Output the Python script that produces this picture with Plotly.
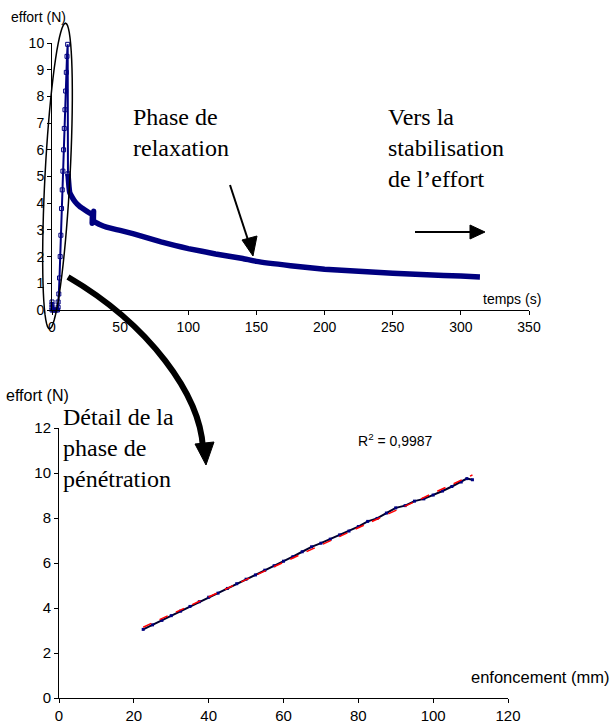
import math
import numpy as np
import plotly.graph_objects as go

# ---------------- data ----------------
# top chart : effort vs temps
rise_t = [0, 0, 0, 0, 1, 2, 3, 4, 4.5, 4.5, 5, 5.5, 6, 6.5, 7, 7.5, 8, 8.5, 9, 9.5, 10, 10.5, 11, 11.5, 11.7]
rise_f = [0, 0.1, 0.2, 0.3, 0, 0, 0, 0, 0.1, 0.3, 0.6, 1.2, 2.0, 2.8, 3.8, 4.5, 5.2, 6.0, 6.8, 7.5, 8.2, 8.9, 9.5, 9.95, 5.1]

relax_t = [11.7, 12.5, 13, 14.5, 17, 20.5, 24, 28, 29.5, 29.5, 30.5, 30.5, 32, 35, 40, 50, 60, 70, 80, 90, 100,
           120, 140, 150, 175, 200, 225, 250, 275, 300, 314]
relax_f = [5.1, 4.6, 4.4, 4.25, 4.05, 3.87, 3.75, 3.62, 3.6, 3.25, 3.7, 3.3, 3.28, 3.2, 3.1, 2.98, 2.85, 2.7, 2.55,
           2.42, 2.3, 2.1, 1.93, 1.82, 1.66, 1.53, 1.45, 1.38, 1.32, 1.27, 1.24]

top_xticks = [0, 50, 100, 150, 200, 250, 300, 350]
top_yticks = [0, 1, 2, 3, 4, 5, 6, 7, 8, 9, 10]

# bottom chart : effort vs enfoncement
pen_x = [22.5, 25, 27.5, 30, 32.5, 35, 37.5, 40, 42.5, 45, 47.5, 50, 52.5, 55, 57.5, 60, 62.5, 65, 67.5, 70,
         72.5, 75, 77.5, 80, 82.5, 85, 87.5, 90, 92.5, 95, 97.5, 100, 102.5, 105, 107.5, 109, 110.5]
pen_f = [3.05, 3.25, 3.45, 3.66, 3.86, 4.07, 4.28, 4.48, 4.66, 4.87, 5.08, 5.28, 5.47, 5.68, 5.88, 6.08, 6.28,
         6.50, 6.72, 6.88, 7.06, 7.25, 7.42, 7.62, 7.85, 7.98, 8.22, 8.45, 8.55, 8.75, 8.85, 9.02, 9.2, 9.4,
         9.6, 9.75, 9.7]

bot_xticks = [0, 20, 40, 60, 80, 100, 120]
bot_yticks = [0, 2, 4, 6, 8, 10, 12]

W, H = 614, 726


def px(x):
    return x / W


def py(y):
    return 1 - y / H


SANS = "Liberation Sans, Arial, sans-serif"
SERIF = "Liberation Serif, Times New Roman, serif"
NAVY = "#000080"

fig = go.Figure()

fig.add_trace(go.Scatter(x=rise_t, y=rise_f, mode="lines+markers", xaxis="x", yaxis="y",
                         line=dict(color=NAVY, width=2),
                         marker=dict(symbol="square-open", size=4, color=NAVY, line=dict(width=1, color=NAVY)),
                         cliponaxis=False, showlegend=False, hoverinfo="skip"))
fig.add_trace(go.Scatter(x=relax_t, y=relax_f, mode="lines", xaxis="x", yaxis="y",
                         line=dict(color=NAVY, width=5.5, shape="spline", smoothing=0.4),
                         showlegend=False, hoverinfo="skip"))

# bottom
fig.add_trace(go.Scatter(x=pen_x, y=pen_f, mode="lines+markers", xaxis="x2", yaxis="y2",
                         line=dict(color="#000030", width=2),
                         marker=dict(symbol="square", size=3, color=NAVY),
                         showlegend=False, hoverinfo="skip"))
coef = np.polyfit(pen_x, pen_f, 1)
tx = [min(pen_x), max(pen_x)]
ty = [coef[0] * v + coef[1] for v in tx]
fig.add_trace(go.Scatter(x=tx, y=ty, mode="lines", xaxis="x2", yaxis="y2",
                         line=dict(color="#FF0000", width=1.5, dash="dash"),
                         showlegend=False, hoverinfo="skip"))

axis_common = dict(showgrid=False, zeroline=False, showline=True, linecolor="black", linewidth=1,
                   ticks="outside", ticklen=4, tickcolor="black", tickwidth=1, automargin=False)

fig.update_layout(
    width=W, height=H, margin=dict(l=0, r=0, t=0, b=0),
    paper_bgcolor="white", plot_bgcolor="white",
    xaxis=dict(domain=[px(52), px(529)], range=[0, 350], tickvals=top_xticks, anchor="y",
               tickfont=dict(family=SANS, size=14, color="black"), **axis_common),
    yaxis=dict(domain=[py(310), py(43)], range=[0, 10], tickvals=top_yticks, anchor="x",
               tickfont=dict(family=SANS, size=14, color="black"), **axis_common),
    xaxis2=dict(domain=[px(59), px(508)], range=[0, 120], tickvals=bot_xticks, anchor="y2",
                tickfont=dict(family=SANS, size=15, color="black"), **axis_common),
    yaxis2=dict(domain=[py(698), py(428)], range=[0, 12], tickvals=bot_yticks, anchor="x2",
                tickfont=dict(family=SANS, size=15, color="black"), **axis_common),
)

ann = []


def text(x, y, s, size, family, xanchor="left", yanchor="middle"):
    ann.append(dict(x=px(x), y=py(y), xref="paper", yref="paper", text=s, showarrow=False,
                    xanchor=xanchor, yanchor=yanchor, align="left",
                    font=dict(family=family, size=size, color="black")))


text(9, 17, "effort (N)", 14, SANS)
text(481, 299, "temps (s)", 14, SANS)
text(4, 396, "effort (N)", 16, SANS)
text(469, 677, "enfoncement (mm)", 16.5, SANS)
text(356, 440, "R<sup>2</sup> = 0,9987", 14, SANS)
text(131, 132, "Phase de<br>relaxation", 24, SERIF)
text(386, 148, "Vers la<br>stabilisation<br>de l\u2019effort", 24, SERIF)
text(61, 448, "Détail de la<br>phase de<br>pénétration", 24, SERIF)
fig.update_layout(annotations=ann)

shapes = []

# tilted ellipse around the penetration phase
cx, cy, a, b, alpha = 57.5, 176, 153, 12.5, math.radians(3.0)
ux, uy = math.sin(alpha), -math.cos(alpha)
vx, vy = math.cos(alpha), math.sin(alpha)
pts = []
for i in range(73):
    th = 2 * math.pi * i / 72
    X = cx + a * math.cos(th) * ux + b * math.sin(th) * vx
    Y = cy + a * math.cos(th) * uy + b * math.sin(th) * vy
    pts.append((px(X), py(Y)))
path = "M " + " L ".join(f"{X:.5f},{Y:.5f}" for X, Y in pts) + " Z"
shapes.append(dict(type="path", path=path, xref="paper", yref="paper",
                   line=dict(color="black", width=1.5)))

# big curved arrow
p0, c1, c2, p1 = (68, 277), (150, 325), (200, 395), (203, 448)
curve = (f"M {px(p0[0]):.5f},{py(p0[1]):.5f} C {px(c1[0]):.5f},{py(c1[1]):.5f} "
         f"{px(c2[0]):.5f},{py(c2[1]):.5f} {px(p1[0]):.5f},{py(p1[1]):.5f}")
shapes.append(dict(type="path", path=curve, xref="paper", yref="paper",
                   line=dict(color="black", width=6)))


def tri(pa, pb, pc):
    p = f"M {px(pa[0]):.5f},{py(pa[1]):.5f} L {px(pb[0]):.5f},{py(pb[1]):.5f} L {px(pc[0]):.5f},{py(pc[1]):.5f} Z"
    shapes.append(dict(type="path", path=p, xref="paper", yref="paper",
                       fillcolor="black", line=dict(color="black", width=1)))


tri((206, 465), (195, 444), (214, 442))

# relaxation arrow
shapes.append(dict(type="line", x0=px(230), y0=py(185), x1=px(249), y1=py(243), xref="paper", yref="paper",
                   line=dict(color="black", width=2)))
tri((253, 256), (242, 240), (257, 236))

# stabilisation arrow
shapes.append(dict(type="line", x0=px(415), y0=py(232), x1=px(472), y1=py(232), xref="paper", yref="paper",
                   line=dict(color="black", width=2)))
tri((485, 232), (470, 225), (470, 239))

fig.update_layout(shapes=shapes)

fig.write_html("out.html", config={"displayModeBar": False},
               post_script="document.body.style.margin='0';document.body.style.overflow='hidden';")
